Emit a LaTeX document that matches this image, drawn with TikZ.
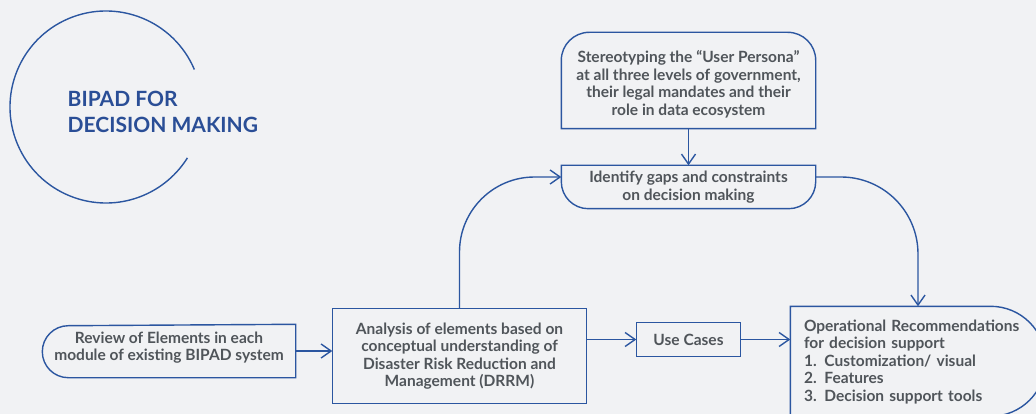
\documentclass[tikz,border=0pt]{standalone}
\usepackage{fontspec}
\setmainfont{Lato}
\usetikzlibrary{arrows.meta}
\definecolor{bg}{HTML}{F1F2F4}
\definecolor{lineblue}{HTML}{2B56A0}
\definecolor{titleblue}{HTML}{2A4E96}
\definecolor{txt}{HTML}{50555A}
\begin{document}
\begin{tikzpicture}[x=1pt,y=1pt, line width=1.4pt,
  box/.style={draw=none, text=txt, font=\bfseries\fontsize{15.5}{17.5}\selectfont, align=center, inner sep=0pt},
  conn/.style={draw=lineblue, -{Straight Barb[length=10pt,width=14pt]}},
  outline/.style={draw=lineblue}]
\fill[bg] (0,0) rectangle (1036,-414);
\useasboundingbox (0,0) rectangle (1036,-414);
\clip (0,0) rectangle (1036,-414);

% decorative circle and title
\draw[lineblue] (106,-107) ++(23:96) arc[start angle=23,end angle=328,radius=96];
\node[anchor=base west, align=left, text=titleblue, font=\bfseries\fontsize{21}{26}\selectfont, inner sep=0pt] (title) at (67,-133) {BIPAD FOR\\DECISION MAKING};

% nodes
\node[box, minimum width=253pt, minimum height=95pt] (st) at (688.5,-80.5) {\rule{0pt}{19.5pt}Stereotyping the “User Persona”\\at all three levels of government,\\their legal mandates and their\\role in data ecosystem};
\node[box, minimum width=253pt, minimum height=42pt] (id) at (688.5,-187) {Identify gaps and constraints\\on decision making};
\node[box, minimum width=252pt, minimum height=52pt] (rv) at (169,-351) {Review of Elements in each\\module of existing BIPAD system\rule[-10pt]{0pt}{1pt}};
\node[box, minimum width=253pt, minimum height=94pt] (an) at (459.5,-356) {Analysis of elements based on\\conceptual understanding of\\Disaster Risk Reduction and\\Management (DRRM)};
\node[box, minimum width=103pt, minimum height=33pt] (uc) at (688.5,-339.5) {Use Cases};
\node[box, align=left, text width=228pt, inner xsep=13pt, minimum height=110pt] (op) at (918,-362) {Operational Recommendations\\for decision support\\1. Customization/ visual\\2. Features\\3. Decision support tools};

% outlines
\draw[outline] (st.south west) -- ([yshift=-28pt]st.north west) arc[start angle=180,end angle=90,radius=28pt] -- ([xshift=-28pt]st.north east) arc[start angle=90,end angle=0,radius=28pt] -- (st.south east) -- cycle;
\draw[outline] (id.north west) -- (id.north east) -- ([yshift=27pt]id.south east) arc[start angle=0,end angle=-90,radius=27pt] -- ([xshift=27pt]id.south west) arc[start angle=270,end angle=180,radius=27pt] -- cycle;
\draw[outline] (rv.north east) -- (rv.south east) -- ([xshift=26pt]rv.south west) arc[start angle=270,end angle=90,radius=26pt] -- cycle;
\draw[outline] (an.south west) rectangle (an.north east);
\draw[outline] (uc.south west) rectangle (uc.north east);
\draw[outline] (op.south west) -- (op.north west) -- ([xshift=-55pt]op.north east) arc[start angle=90,end angle=-90,radius=55pt] -- cycle;

% connectors
\coordinate (idL) at ([yshift=10pt]id.west);
\coordinate (idR) at ([yshift=10pt]id.east);
\draw[conn] (st.south) -- (id.north);
\draw[conn, rounded corners=75pt] (an.north) |- (idL);
\draw[conn, rounded corners=77pt] (idR) -| (op.north);
\draw[conn] (rv.east) -- (rv.east -| an.west);
\draw[conn] (uc.west -| an.east) -- (uc.west);
\draw[conn] (uc.east) -- (uc.east -| op.west);
\end{tikzpicture}
\end{document}
